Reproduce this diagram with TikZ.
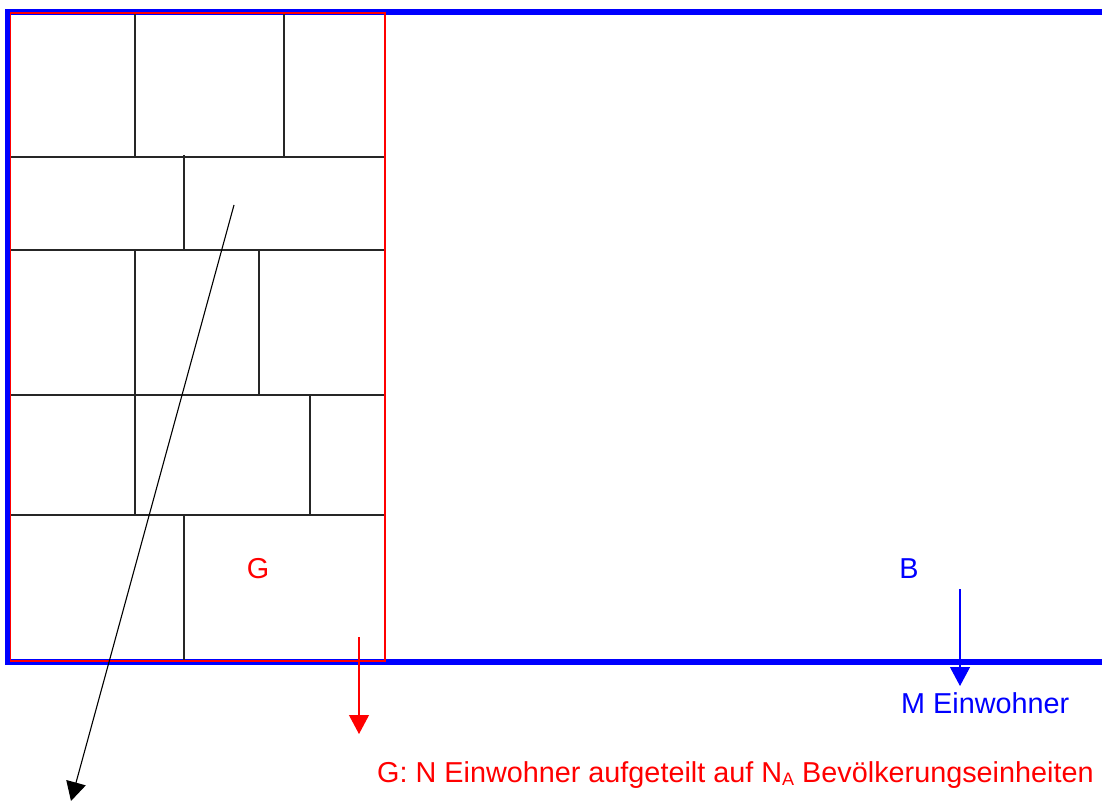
\documentclass[tikz,border=0pt]{standalone}
\usepackage{fontspec}
\setmainfont{Liberation Sans}
\usetikzlibrary{arrows.meta}
\definecolor{pblue}{RGB}{0,0,255}
\definecolor{pred}{RGB}{255,0,0}
\tikzset{
  grid/.style={draw=black!85, line width=1.1pt},
  outer/.style={draw=pblue, line width=6.5pt},
  inner/.style={draw=pred, line width=1.6pt},
  lbl/.style={inner sep=0pt, font=\fontsize{28.8}{32}\selectfont},
  tri/.style={-{Triangle[length=19pt,width=20pt]}},
}
\begin{document}
\begin{tikzpicture}[x=1pt,y=-1pt]
\useasboundingbox (0,0) rectangle (1102,805);
% blue area
\draw[outer] (1102,12) -- (8,12) -- (8,662) -- (1102,662);
% grid of population units
\draw[grid] (10.5,157) -- (385,157);
\draw[grid] (10.5,250) -- (385,250);
\draw[grid] (10.5,395) -- (385,395);
\draw[grid] (10.5,515) -- (385,515);
\draw[grid] (135,12) -- (135,157);
\draw[grid] (284,13) -- (284,157);
\draw[grid] (184,155) -- (184,250);
\draw[grid] (135,250) -- (135,395);
\draw[grid] (259,250) -- (259,395);
\draw[grid] (135,395) -- (135,515);
\draw[grid] (310,395) -- (310,515);
\draw[grid] (184,515) -- (184,661);
% red area
\draw[inner] (10.5,13) rectangle (385,661);
% labels
\node[lbl, text=pred] (g) at (258,569) {G};
\node[lbl, text=pblue] (b) at (909,569) {B};
\node[lbl, text=pblue, anchor=base west] (m) at (901,713) {M Einwohner};
\node[lbl, text=pred, anchor=base west] (n) at (377,782) {G: N Einwohner aufgeteilt auf N\raisebox{-0.25ex}{\fontsize{18}{19}\selectfont A} Bevölkerungseinheiten};
% arrows
\coordinate (ks) at (234,205);
\coordinate (ke) at (71,801);
\draw[line width=1.1pt, tri] (ks) -- (ke);
\coordinate (rs) at (359,637);
\coordinate (re) at (359,734);
\draw[draw=pred, fill=pred, line width=1.1pt, tri] (rs) -- (re);
\coordinate (bs) at (960,589);
\coordinate (be) at (960,686);
\draw[draw=pblue, line width=1.1pt, tri] (bs) -- (be);
\end{tikzpicture}
\end{document}
